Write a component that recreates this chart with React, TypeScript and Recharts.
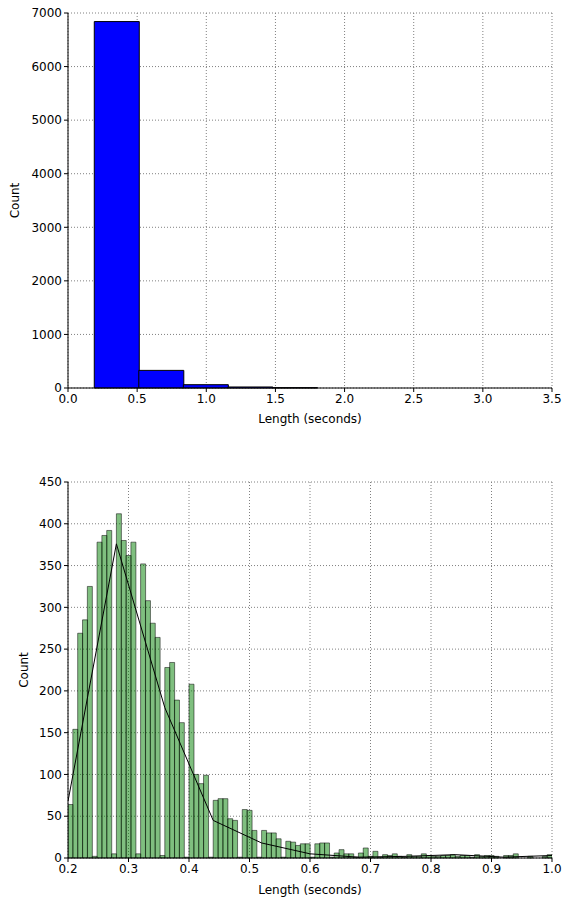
import React from "react";
import {
  Bar,
  CartesianGrid,
  ComposedChart,
  Line,
  XAxis,
  YAxis,
} from "recharts";

// top histogram: all clip lengths
const allEdges = [0.19, 0.512, 0.834, 1.156, 1.478, 1.8, 2.122, 2.444, 2.766, 3.088, 3.41];
const allCounts = [6840, 329, 62, 19, 6, 0, 0, 0, 0, 0];
const allXTicks = [0, 0.5, 1, 1.5, 2, 2.5, 3, 3.5];
const allYTicks = [0, 1000, 2000, 3000, 4000, 5000, 6000, 7000];

// bottom histogram: zoom on 0.2 - 1.0 s, 100 bins
const zoomStart = 0.2;
const zoomBinWidth = 0.008;
const zoomCounts = [
  64, 154, 269, 285, 325, 2, 378, 386, 392, 5,
  412, 380, 362, 378, 5, 352, 308, 281, 264, 3,
  228, 234, 189, 162, 1, 208, 100, 89, 99, 1,
  69, 71, 71, 47, 45, 1, 58, 57, 33, 1,
  33, 30, 30, 23, 1, 20, 19, 15, 17, 17,
  1, 17, 18, 18, 1, 6, 10, 5, 5, 1,
  6, 12, 2, 8, 1, 4, 3, 5, 2, 1,
  4, 2, 2, 5, 3, 2, 2, 3, 3, 4,
  2, 3, 3, 1, 4, 2, 3, 3, 2, 0,
  3, 3, 5, 0, 0, 2, 0, 0, 2, 4,
];
const trendX = [0.2, 0.28, 0.36, 0.44, 0.52, 0.6, 0.68, 0.76, 0.84, 0.92, 1.0];
const trendY = [68, 376, 180, 45, 18, 5, 1, 2, 4, 1, 3];
const zoomXTicks = [0.2, 0.3, 0.4, 0.5, 0.6, 0.7, 0.8, 0.9, 1.0];
const zoomYTicks = [0, 50, 100, 150, 200, 250, 300, 350, 400, 450];

const allData = allCounts.map((count, i) => ({
  x: (allEdges[i] + allEdges[i + 1]) / 2,
  count,
}));
const zoomData = zoomCounts.map((count, i) => ({
  x: zoomStart + zoomBinWidth * (i + 0.5),
  count,
}));
const trendData = trendX.map((x, i) => ({ x, y: trendY[i] }));

const tickStyle = { fill: "#000", fontSize: 12 };
const W = 563;
const H = 449;

function YTitle({ viewBox, value, cx }: any) {
  const cy = viewBox.y + viewBox.height / 2;
  return (
    <text
      x={cx}
      y={cy}
      transform={`rotate(-90, ${cx}, ${cy})`}
      textAnchor="middle"
      dominantBaseline="central"
      fontSize={12}
      fill="#000"
    >
      {value}
    </text>
  );
}

function XTitle({ viewBox, value, dy }: any) {
  return (
    <text
      x={viewBox.x + viewBox.width / 2}
      y={viewBox.y + dy}
      textAnchor="middle"
      dominantBaseline="central"
      fontSize={12}
      fill="#000"
    >
      {value}
    </text>
  );
}

export default function App() {
  return (
    <div
      style={{
        position: "absolute",
        left: 0,
        top: 0,
        width: W,
        height: 898,
        background: "#fff",
        fontFamily: "'DejaVu Sans', sans-serif",
      }}
    >
      <ComposedChart
        width={W}
        height={H}
        data={allData}
        margin={{ top: 13, right: 11, bottom: 21, left: 0 }}
        barCategoryGap={0}
        barGap={0}
      >
        <CartesianGrid stroke="#808080" strokeDasharray="1 2" />
        <XAxis
          dataKey="x"
          type="number"
          domain={[0, 3.5]}
          ticks={allXTicks}
          interval={0}
          tickFormatter={(v: number) => v.toFixed(1)}
          tick={tickStyle}
          tickSize={4}
          tickMargin={2}
          height={40}
          stroke="#000"
          label={<XTitle value="Length (seconds)" dy={31} />}
        />
        <XAxis
          xAxisId="top"
          orientation="top"
          type="number"
          domain={[0, 3.5]}
          ticks={allXTicks}
          tick={false}
          mirror
          tickSize={4}
          height={0}
          stroke="#000"
        />
        <YAxis
          type="number"
          domain={[0, 7000]}
          ticks={allYTicks}
          interval={0}
          tick={tickStyle}
          tickSize={4}
          tickMargin={2}
          width={68}
          stroke="#000"
          label={<YTitle value="Count" cx={15} />}
        />
        <YAxis
          yAxisId="right"
          orientation="right"
          type="number"
          domain={[0, 7000]}
          ticks={allYTicks}
          tick={false}
          mirror
          tickSize={4}
          width={0}
          stroke="#000"
        />
        <Bar
          dataKey="count"
          fill="#0000ff"
          stroke="#000"
          strokeWidth={1}
          isAnimationActive={false}
        />
      </ComposedChart>

      <ComposedChart
        width={W}
        height={H}
        data={zoomData}
        margin={{ top: 33, right: 11, bottom: 0, left: 0 }}
        barCategoryGap={0}
        barGap={0}
      >
        <CartesianGrid stroke="#808080" strokeDasharray="1 2" />
        <XAxis
          dataKey="x"
          type="number"
          domain={[0.2, 1.0]}
          ticks={zoomXTicks}
          interval={0}
          allowDataOverflow
          tickFormatter={(v: number) => v.toFixed(1)}
          tick={tickStyle}
          tickSize={4}
          tickMargin={2}
          height={40}
          stroke="#000"
          label={<XTitle value="Length (seconds)" dy={32} />}
        />
        <XAxis
          xAxisId="top"
          dataKey="x"
          orientation="top"
          type="number"
          domain={[0.2, 1.0]}
          ticks={zoomXTicks}
          allowDataOverflow
          tick={false}
          mirror
          tickSize={4}
          height={0}
          stroke="#000"
        />
        <YAxis
          type="number"
          domain={[0, 450]}
          ticks={zoomYTicks}
          interval={0}
          tick={tickStyle}
          tickSize={4}
          tickMargin={2}
          width={68}
          stroke="#000"
          label={<YTitle value="Count" cx={24} />}
        />
        <YAxis
          yAxisId="right"
          orientation="right"
          type="number"
          domain={[0, 450]}
          ticks={zoomYTicks}
          tick={false}
          mirror
          tickSize={4}
          width={0}
          stroke="#000"
        />
        <Bar
          dataKey="count"
          fill="#008000"
          fillOpacity={0.5}
          stroke="#000"
          strokeOpacity={0.5}
          strokeWidth={1}
          isAnimationActive={false}
        />
        <Line
          data={trendData}
          xAxisId="top"
          dataKey="y"
          type="linear"
          stroke="#000"
          strokeWidth={1}
          dot={false}
          isAnimationActive={false}
        />
      </ComposedChart>
    </div>
  );
}
